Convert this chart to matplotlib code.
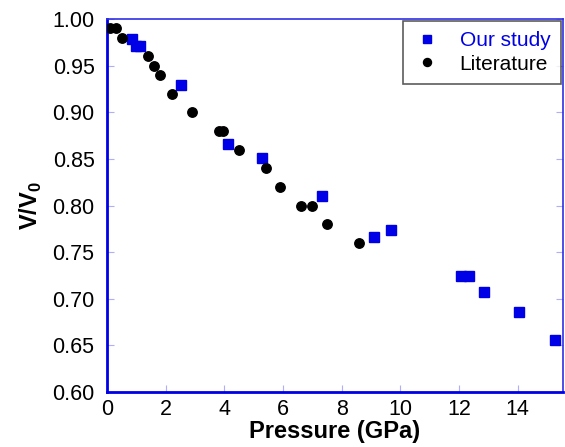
import matplotlib
matplotlib.use("Agg")
import matplotlib.pyplot as plt

plt.rcParams['font.family'] = ['Liberation Sans', 'DejaVu Sans']

# Literature data (black circles)
lit_p = [0.09, 0.32, 0.5, 1.4, 1.6, 1.8, 2.2, 2.9, 3.82, 3.94, 4.5, 5.42, 5.9, 6.6, 7.0, 7.5, 8.6]
lit_v = [0.99, 0.99, 0.98, 0.96, 0.95, 0.94, 0.92, 0.90, 0.88, 0.88, 0.86, 0.84, 0.82, 0.80, 0.80, 0.78, 0.76]

# Our study (blue squares)
our_p = [0.85, 1.0, 1.14, 2.54, 4.13, 5.28, 7.34, 9.1, 9.68, 12.07, 12.35, 12.85, 14.05, 15.27]
our_v = [0.979, 0.971, 0.971, 0.929, 0.866, 0.851, 0.810, 0.766, 0.774, 0.724, 0.724, 0.707, 0.686, 0.656]

xticks = [0, 2, 4, 6, 8, 10, 12, 14]
yticks = [0.60, 0.65, 0.70, 0.75, 0.80, 0.85, 0.90, 0.95, 1.00]

fig = plt.figure(figsize=(5.65, 4.47), dpi=100)
ax = fig.add_axes([0.1894, 0.123, 0.807, 0.8345])

ax.plot(our_p, our_v, 's', color='#0000e6', markersize=7.2, label='Our study', zorder=3)
ax.plot(lit_p, lit_v, 'o', color='black', markersize=6.8, label='Literature', zorder=3)

ax.set_xlim(0, 15.55)
ax.set_ylim(0.60, 1.00)
ax.set_xticks(xticks)
ax.set_yticks(yticks)
ax.set_xticklabels([str(t) for t in xticks])
ax.set_yticklabels([f"{t:.2f}" for t in yticks])
ax.tick_params(direction='in', length=5, width=0.8, color='#b0b0f0',
               labelsize=15.5, pad=5, top=False, right=True)
ax.tick_params(axis='y', pad=9)

for side in ['left', 'bottom']:
    ax.spines[side].set_color('#0000e6')
    ax.spines[side].set_linewidth(2.0)
for side in ['top', 'right']:
    ax.spines[side].set_color('#3030e6')
    ax.spines[side].set_linewidth(1.2)

ax.set_xlabel('Pressure (GPa)', fontsize=17, fontweight='bold', labelpad=0)
ax.set_ylabel(r'V/V$_{\mathregular{0}}$', fontsize=17, fontweight='bold', labelpad=6)

leg = ax.legend(loc='upper right', fontsize=15, frameon=True, fancybox=False,
                borderaxespad=0.1, handletextpad=0.9, borderpad=0.5,
                labelspacing=0.2, handlelength=1.3, markerscale=0.85)
leg.get_frame().set_edgecolor('#333333')
leg.get_frame().set_linewidth(1.2)
leg.get_texts()[0].set_color('#0000e6')
leg.get_texts()[1].set_color('black')

fig.savefig('out.png', dpi=100)
